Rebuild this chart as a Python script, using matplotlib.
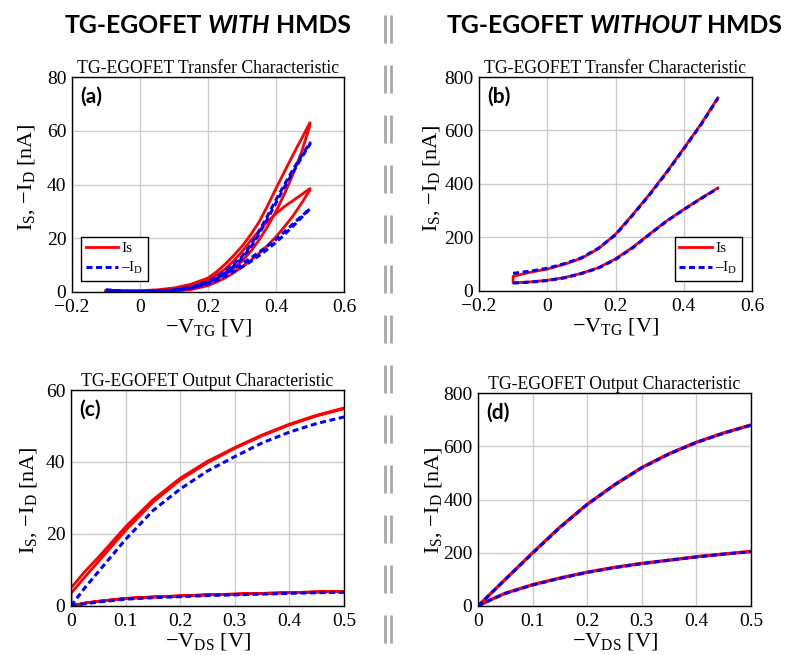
import matplotlib
matplotlib.use('Agg')
import matplotlib.pyplot as plt
from matplotlib.lines import Line2D

plt.rcParams['font.family'] = ['Liberation Serif', 'DejaVu Serif']
plt.rcParams['mathtext.fontset'] = 'custom'
plt.rcParams['mathtext.rm'] = 'Liberation Serif'
plt.rcParams['mathtext.it'] = 'Liberation Serif:italic'
plt.rcParams['mathtext.bf'] = 'Liberation Serif:bold'
plt.rcParams['lines.scale_dashes'] = False

# ---------------- data ----------------
# (a) transfer, with HMDS
vtg_a = [-0.1, -0.05, 0.0, 0.05, 0.1, 0.15, 0.2, 0.225, 0.25, 0.275, 0.3, 0.325, 0.35,
         0.375, 0.4, 0.425, 0.45, 0.475, 0.5]
Is_a1_fwd = [0.6, 0.4, 0.5, 0.8, 1.5, 2.9, 5.2, 7.5, 10.3, 13.5, 17.0, 21.2, 26.0,
             32.0, 38.5, 44.8, 51.0, 57.0, 63.0]
Is_a1_rev = [0.3, 0.2, 0.2, 0.3, 0.7, 1.6, 3.5, 4.9, 6.6, 8.8, 11.5, 15.0, 19.3,
             24.3, 30.0, 36.5, 43.8, 52.0, 62.0]
Is_a2_fwd = [0.4, 0.3, 0.3, 0.5, 1.0, 2.2, 4.5, 6.3, 8.5, 11.5, 15.0, 19.0, 22.8,
             26.2, 29.2, 31.8, 34.0, 36.2, 38.5]
Is_a2_rev = [0.2, 0.1, 0.1, 0.1, 0.3, 0.9, 2.4, 3.7, 5.2, 7.1, 9.3, 11.7, 14.3,
             17.3, 20.5, 24.3, 28.3, 33.0, 38.0]
Id_a1_fwd = [0.8, 0.3, 0.2, 0.3, 0.7, 1.6, 3.8, 5.6, 7.8, 10.3, 13.3, 17.3, 22.5,
             28.3, 34.3, 40.0, 45.5, 50.7, 55.5]
Id_a1_rev = [0.6, 0.3, 0.2, 0.3, 0.6, 1.4, 3.3, 4.9, 7.0, 9.5, 12.5, 16.5, 21.5,
             27.2, 33.2, 39.0, 44.5, 50.0, 55.0]
Id_a2_fwd = [0.7, 0.3, 0.2, 0.3, 0.8, 1.8, 3.8, 5.2, 6.8, 8.6, 10.5, 12.6, 14.8,
             17.1, 19.6, 22.4, 25.3, 28.2, 31.0]
Id_a2_rev = [0.5, 0.2, 0.2, 0.3, 0.6, 1.4, 3.0, 4.3, 5.8, 7.5, 9.3, 11.3, 13.5,
             15.9, 18.5, 21.4, 24.5, 27.7, 31.0]

# (b) transfer, without HMDS
vtg_b = [-0.1, -0.05, 0.0, 0.05, 0.1, 0.15, 0.2, 0.25, 0.3, 0.35, 0.4, 0.45, 0.5]
Is_b_hi = [55, 70, 82, 100, 122, 158, 212, 285, 362, 445, 533, 623, 722]
Is_b_lo = [30, 34, 40, 50, 66, 87, 120, 163, 213, 262, 305, 346, 385]
Id_b_hi = [66, 74, 85, 102, 124, 160, 210, 283, 360, 443, 531, 621, 720]
Id_b_lo = [30, 33, 39, 49, 65, 86, 118, 161, 212, 261, 304, 345, 384]

# (c) output, with HMDS
vds_c = [0.0, 0.025, 0.05, 0.1, 0.15, 0.2, 0.25, 0.3, 0.35, 0.4, 0.45, 0.5]
Is_c_hi_fwd = [5.0, 9.5, 13.5, 22.0, 29.5, 35.5, 40.2, 44.0, 47.5, 50.5, 53.0, 55.0]
Is_c_hi_rev = [3.5, 8.0, 12.3, 21.0, 28.8, 35.0, 39.8, 43.8, 47.3, 50.3, 52.8, 54.8]
Id_c_hi = [0.0, 5.0, 9.5, 18.5, 26.5, 32.5, 37.5, 41.5, 45.3, 48.3, 50.7, 52.5]
Is_c_lo = [0.0, 0.8, 1.3, 2.1, 2.5, 2.8, 3.1, 3.3, 3.5, 3.7, 3.9, 4.0]
Id_c_lo = [0.0, 0.6, 1.1, 1.9, 2.3, 2.6, 2.9, 3.1, 3.3, 3.5, 3.7, 3.8]

# (d) output, without HMDS
vds_d = [0.0, 0.025, 0.05, 0.1, 0.15, 0.2, 0.25, 0.3, 0.35, 0.4, 0.45, 0.5]
Is_d_hi = [0, 50, 100, 200, 296, 382, 455, 520, 572, 615, 650, 680]
Id_d_hi = [0, 50, 100, 198, 295, 381, 455, 519, 571, 614, 649, 679]
Is_d_lo = [0, 25, 48, 80, 105, 127, 145, 160, 172, 185, 195, 205]
Id_d_lo = [0, 25, 47, 79, 104, 126, 144, 159, 172, 184, 195, 204]

xt_tr = [-0.2, 0.0, 0.2, 0.4, 0.6]
xt_tr_lbl = ['\u22120.2', '0', '0.2', '0.4', '0.6']
xt_out = [0.0, 0.1, 0.2, 0.3, 0.4, 0.5]
xt_out_lbl = ['0', '0.1', '0.2', '0.3', '0.4', '0.5']
yt_a = [0, 20, 40, 60, 80]
yt_c = [0, 20, 40, 60]
yt_bd = [0, 200, 400, 600, 800]

# ---------------- figure ----------------
W, H = 785, 655
fig = plt.figure(figsize=(W / 100, H / 100), dpi=100)

RED = '#ff0000'
BLUE = '#0000ff'
LW_R = 2.0
LW_B = 2.2
DASH = (0, (4.3, 2.6))


def add_ax(l, t, r, b):
    return fig.add_axes([l / W, 1 - b / H, (r - l) / W, (b - t) / H])


YLABEL = 'I$_\\mathrm{S}$, \u2212I$_\\mathrm{D}$ [nA]'


def style(ax, title, letter, xt, xtl, yt, xlabel):
    ax.set_xticks(xt)
    ax.set_xticklabels(xtl)
    ax.set_yticks(yt)
    ax.set_yticklabels([str(v) for v in yt])
    ax.tick_params(length=0, labelsize=14)
    ax.tick_params(axis='x', pad=5)
    ax.tick_params(axis='y', pad=4)
    ax.grid(True, color='#cccccc', linewidth=1.0)
    ax.set_axisbelow(True)
    for s in ax.spines.values():
        s.set_linewidth(1.0)
        s.set_color('black')
    ax.set_title(title, fontsize=12.7, pad=1.5)
    ax.text(0.03, 0.955, letter, transform=ax.transAxes, ha='left', va='top',
            fontsize=15, fontweight='bold', family='Lato')
    ax.set_ylabel(YLABEL, fontsize=16)
    ax.set_xlabel(xlabel, fontsize=16)


def legend(ax, loc, anchor):
    lg = ax.legend(loc=loc, bbox_to_anchor=anchor, borderaxespad=0, fancybox=False,
                   edgecolor='black', framealpha=1, fontsize=11, handlelength=2.15,
                   handletextpad=0.2, borderpad=0.3, labelspacing=0.35)
    lg.get_frame().set_linewidth(1.0)


lblVTG = '\u2212V$_\\mathrm{TG}$ [V]'
lblVDS = '\u2212V$_\\mathrm{DS}$ [V]'
lblIS = 'Is'
lblID = '\u2013I$_\\mathrm{D}$'

# (a)
axa = add_ax(72, 77, 344, 292)
axa.plot(vtg_a + vtg_a[::-1], Is_a1_fwd + Is_a1_rev[::-1], color=RED, lw=LW_R, label=lblIS)
axa.plot(vtg_a + vtg_a[::-1], Is_a2_fwd + Is_a2_rev[::-1], color=RED, lw=LW_R)
axa.plot(vtg_a + vtg_a[::-1], Id_a1_fwd + Id_a1_rev[::-1], color=BLUE, lw=LW_B, ls=DASH,
         label=lblID)
axa.plot(vtg_a + vtg_a[::-1], Id_a2_fwd + Id_a2_rev[::-1], color=BLUE, lw=LW_B, ls=DASH)
axa.set_xlim(-0.2, 0.6)
axa.set_ylim(0, 80)
style(axa, 'TG-EGOFET Transfer Characteristic', '(a)', xt_tr, xt_tr_lbl, yt_a, lblVTG)
legend(axa, 'lower left', (0.033, 0.051))

# (b)
axb = add_ax(479, 77, 752, 291)
xb = vtg_b[::-1] + vtg_b
yb = Is_b_hi[::-1] + Is_b_lo
axb.plot(xb, yb, color=RED, lw=LW_R, label=lblIS)
axb.plot(vtg_b, Id_b_hi, color=BLUE, lw=LW_B, ls=DASH, label=lblID)
axb.plot(vtg_b, Id_b_lo, color=BLUE, lw=LW_B, ls=DASH)
axb.set_xlim(-0.2, 0.6)
axb.set_ylim(0, 800)
style(axb, 'TG-EGOFET Transfer Characteristic', '(b)', xt_tr, xt_tr_lbl, yt_bd, lblVTG)
legend(axb, 'lower right', (0.963, 0.047))

# (c)
axc = add_ax(71, 390, 344, 606)
xc = vds_c + vds_c[::-1] + vds_c + vds_c[::-1]
yc = Is_c_hi_fwd + Is_c_hi_rev[::-1] + Is_c_lo + Is_c_lo[::-1]
axc.plot(xc, yc, color=RED, lw=LW_R)
axc.plot(vds_c, Id_c_hi, color=BLUE, lw=LW_B, ls=DASH)
axc.plot(vds_c, Id_c_lo, color=BLUE, lw=LW_B, ls=DASH)
axc.set_xlim(0, 0.5)
axc.set_ylim(0, 60)
style(axc, 'TG-EGOFET Output Characteristic', '(c)', xt_out, xt_out_lbl, yt_c, lblVDS)

# (d)
axd = add_ax(478, 393, 751, 606)
axd.plot(vds_d, Is_d_hi, color=RED, lw=LW_R + 0.4)
axd.plot(vds_d, Is_d_lo, color=RED, lw=LW_R + 0.4)
axd.plot(vds_d, Id_d_hi, color=BLUE, lw=LW_B, ls=DASH)
axd.plot(vds_d, Id_d_lo, color=BLUE, lw=LW_B, ls=DASH)
axd.set_xlim(0, 0.5)
axd.set_ylim(0, 800)
style(axd, 'TG-EGOFET Output Characteristic', '(d)', xt_out, xt_out_lbl, yt_bd, lblVDS)

# label coordinates (y label anchored at its right edge)
for ax, (l, r, t, b), rx, cy in [
        (axa, (72, 344, 77, 292), 37, 177),
        (axb, (479, 752, 77, 291), 442, 178),
        (axc, (71, 344, 390, 606), 39, 500),
        (axd, (478, 751, 393, 606), 444, 500)]:
    ax.yaxis.set_label_coords((rx - l) / (r - l), (b - cy) / (b - t))
    ax.xaxis.set_label_coords(0.5, -25 / (b - t))

# separator
for xs in (385.3, 391.3):
    fig.add_artist(Line2D([xs / W, xs / W], [1 - 15 / H, 0], transform=fig.transFigure,
                          color='#a8a8a8', lw=2.0, ls=(0, (20.2, 15.8)), solid_capstyle='butt',
                          dash_capstyle='butt'))

# headers
renderer = fig.canvas.get_renderer()


def header(x0, ybase, size, parts):
    arts = []
    x = x0
    gap = 0.22 * size * 100 / 72
    for txt, st in parts:
        t = fig.text(x / W, 1 - ybase / H, txt, fontsize=size, fontweight='bold', fontstyle=st,
                     family='Lato', ha='left', va='baseline')
        bb = t.get_window_extent(renderer)
        x = bb.x1 + gap
        arts.append(t)
    return arts, x - gap - x0


parts1 = [('TG-EGOFET', 'normal'), ('WITH', 'italic'), ('HMDS', 'normal')]
parts2 = [('TG-EGOFET', 'normal'), ('WITHOUT', 'italic'), ('HMDS', 'normal')]
arts, wdt = header(65, 33, 18, parts1)
size = 18 * 285 / wdt
for a in arts:
    a.remove()
header(65, 33, size, parts1)
header(447, 33, size, parts2)

fig.savefig('out.png', dpi=100)
